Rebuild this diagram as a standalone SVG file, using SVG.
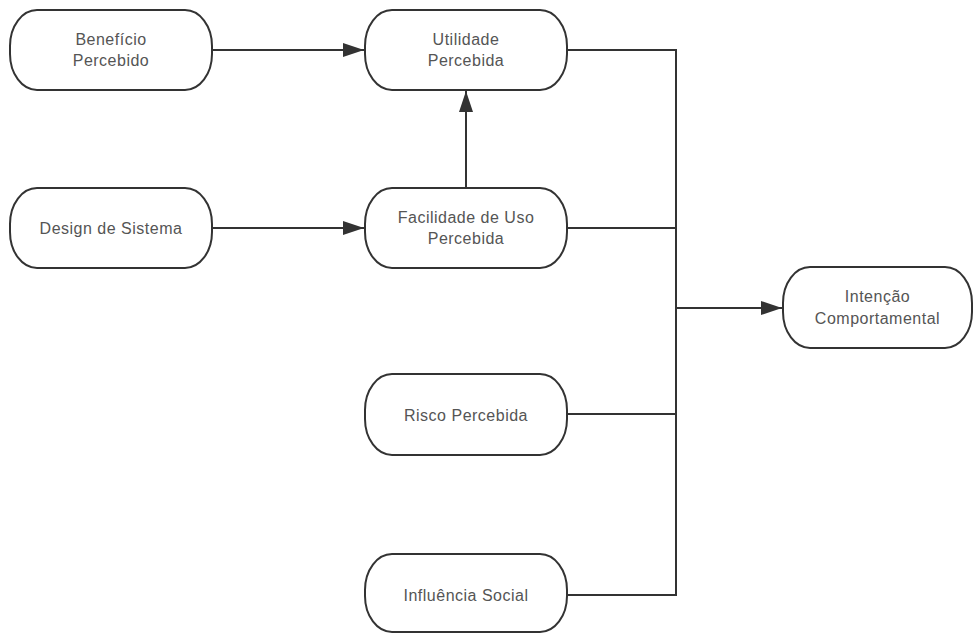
<svg xmlns="http://www.w3.org/2000/svg" width="974" height="634" viewBox="0 0 974 634">
<defs>
<style>
.node rect{fill:#fff;stroke:#333;stroke-width:2}
.node text{font-family:"Liberation Sans",Arial,sans-serif;font-size:16px;fill:#555;text-anchor:middle;letter-spacing:0.5px}
.conn{fill:none;stroke:#333;stroke-width:2}
</style>
<marker id="arr" markerWidth="22" markerHeight="14" refX="21" refY="7" orient="auto" markerUnits="userSpaceOnUse">
<path d="M0,0 L21,7 L0,14 Z" fill="#333"/>
</marker>
</defs>
<rect width="974" height="634" fill="#fff"/>
<g id="connectors">
<path class="conn" d="M212,50 H364" marker-end="url(#arr)"/>
<path class="conn" d="M212,228 H364" marker-end="url(#arr)"/>
<path class="conn" d="M466,187 V91" marker-end="url(#arr)"/>
<path class="conn" d="M567,50 H676 V595 H567"/>
<path class="conn" d="M567,228 H676"/>
<path class="conn" d="M567,414 H676"/>
<path class="conn" d="M676,308 H782" marker-end="url(#arr)"/>
</g>
<g id="beneficio" class="node">
<rect x="10" y="10" width="202" height="80" rx="27" ry="36"/>
<text x="111" y="45">Benefício</text>
<text x="111" y="65.5">Percebido</text>
</g>
<g id="utilidade" class="node">
<rect x="365" y="10" width="202" height="80" rx="27" ry="36"/>
<text x="466" y="45">Utilidade</text>
<text x="466" y="65.5">Percebida</text>
</g>
<g id="design" class="node">
<rect x="10" y="188" width="202" height="80" rx="27" ry="36"/>
<text x="111" y="234">Design de Sistema</text>
</g>
<g id="facilidade" class="node">
<rect x="365" y="188" width="202" height="80" rx="27" ry="36"/>
<text x="466" y="223">Facilidade de Uso</text>
<text x="466" y="243.5">Percebida</text>
</g>
<g id="risco" class="node">
<rect x="365" y="374" width="202" height="81" rx="27" ry="36"/>
<text x="466" y="420.5">Risco Percebida</text>
</g>
<g id="influencia" class="node">
<rect x="365" y="554" width="202" height="78" rx="27" ry="36"/>
<text x="466" y="600.5">Influência Social</text>
</g>
<g id="intencao" class="node">
<rect x="783" y="267" width="189" height="81" rx="27" ry="36"/>
<text x="877.5" y="302">Intenção</text>
<text x="877.5" y="323.5">Comportamental</text>
</g>
</svg>
